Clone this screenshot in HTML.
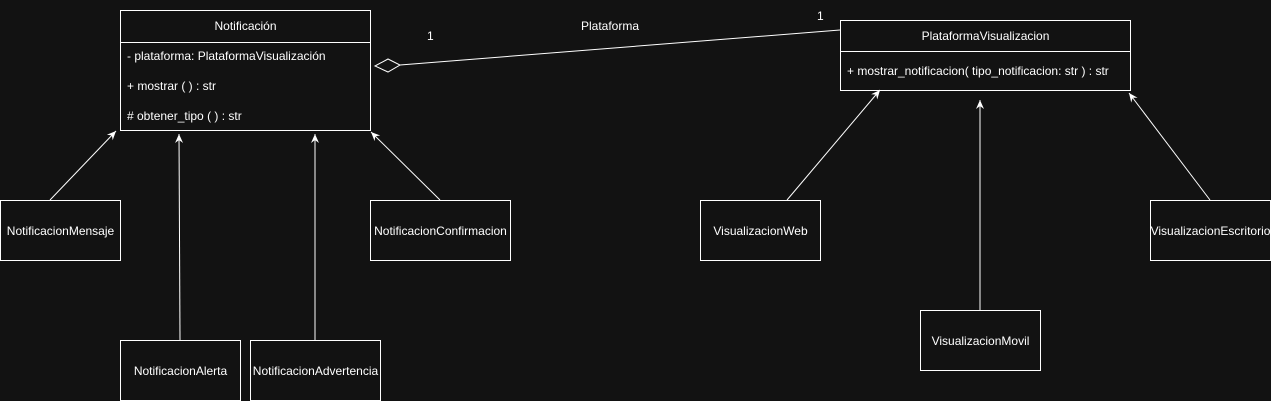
<!DOCTYPE html>
<html><head><meta charset="utf-8"><style>
body{margin:0;width:1271px;height:401px;background:#121212;overflow:hidden;position:relative;font-family:"Liberation Sans",Arial,sans-serif;color:#fff;font-size:12px}
.b{position:absolute;border:1px solid #fff;box-sizing:border-box;display:flex;align-items:center;justify-content:center;white-space:nowrap}
.t{position:absolute;white-space:nowrap}
svg{position:absolute;left:0;top:0}
</style></head><body>
<svg width="1271" height="401">
<defs><marker id="a" markerWidth="10" markerHeight="10" refX="9" refY="5" orient="auto" markerUnits="userSpaceOnUse"><path d="M0,1 L9,5 L0,9 L3,5 Z" fill="#fff"/></marker></defs>
<g stroke="#fff" stroke-width="1" fill="none">
<line x1="50" y1="200" x2="116" y2="131" marker-end="url(#a)"/>
<line x1="180" y1="340" x2="179" y2="134" marker-end="url(#a)"/>
<line x1="315" y1="340" x2="315" y2="134" marker-end="url(#a)"/>
<line x1="440" y1="200" x2="371" y2="132" marker-end="url(#a)"/>
<line x1="787" y1="200" x2="880" y2="90" marker-end="url(#a)"/>
<line x1="980" y1="310" x2="980" y2="100" marker-end="url(#a)"/>
<line x1="1210" y1="200" x2="1129" y2="93" marker-end="url(#a)"/>
<line x1="400" y1="65" x2="840" y2="30"/>
<path d="M375,66 L388,59 L400,65 L388,72 Z" fill="#121212"/>
</g>
</svg>
<div class="b" style="left:120px;top:10px;width:251px;height:121px;display:block">
<div style="height:31px;border-bottom:1px solid #fff;text-align:center;line-height:31px">Notificación</div>
<div style="padding-left:6px;line-height:30px;margin-top:-2px">- plataforma: PlataformaVisualización<br>+ mostrar ( ) : str<br># obtener_tipo ( ) : str</div>
</div>
<div class="b" style="left:840px;top:20px;width:291px;height:71px;display:block">
<div style="height:30px;border-bottom:1px solid #fff;text-align:center;line-height:30px">PlataformaVisualizacion</div>
<div style="padding-left:6px;line-height:39px">+ mostrar_notificacion( tipo_notificacion: str ) : str</div>
</div>
<div class="b" style="left:0;top:200px;width:121px;height:61px">NotificacionMensaje</div>
<div class="b" style="left:370px;top:200px;width:141px;height:61px">NotificacionConfirmacion</div>
<div class="b" style="left:120px;top:340px;width:121px;height:61px">NotificacionAlerta</div>
<div class="b" style="left:250px;top:340px;width:131px;height:61px">NotificacionAdvertencia</div>
<div class="b" style="left:700px;top:200px;width:121px;height:61px">VisualizacionWeb</div>
<div class="b" style="left:1150px;top:200px;width:121px;height:61px">VisualizacionEscritorio</div>
<div class="b" style="left:920px;top:310px;width:121px;height:61px">VisualizacionMovil</div>
<div class="t" style="left:427px;top:29px">1</div>
<div class="t" style="left:581px;top:19px">Plataforma</div>
<div class="t" style="left:817px;top:9px">1</div>
</body></html>
